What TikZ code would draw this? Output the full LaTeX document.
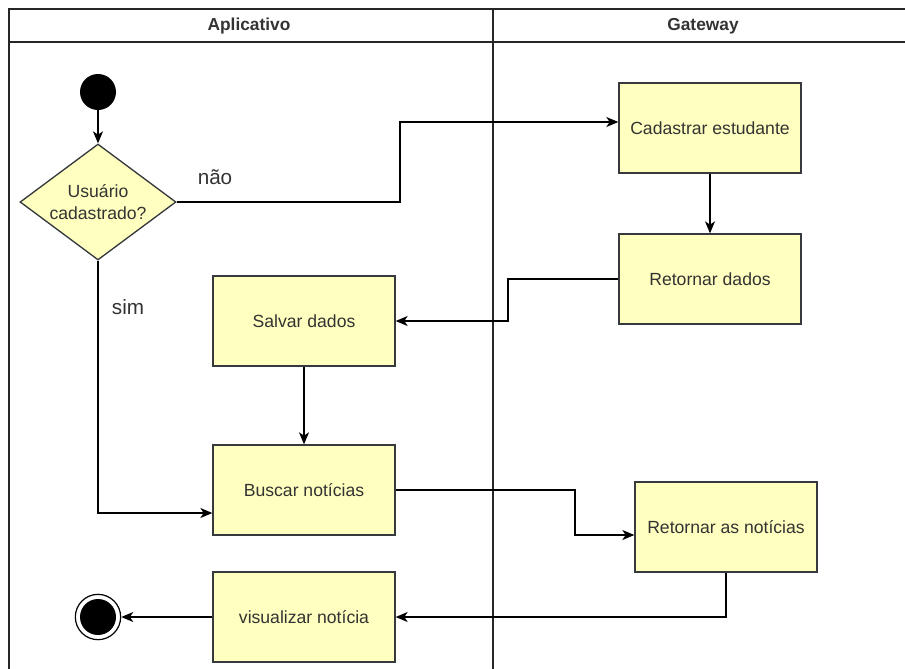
\documentclass[tikz,border=0pt]{standalone}
\usepackage{fontspec}
\setmainfont{Liberation Sans}
\usetikzlibrary{arrows.meta,shapes.geometric}
\definecolor{actfill}{HTML}{FFFFC0}
\definecolor{actline}{HTML}{36393D}
\definecolor{txt}{HTML}{333333}
\begin{document}
\begin{tikzpicture}[x=0.75pt,y=-0.75pt,
  lane/.style={line width=1.4pt,draw=black!85},
  act/.style={rectangle,draw=actline,fill=actfill,line width=1pt,
    minimum width=136.5pt,minimum height=67.5pt,inner sep=0pt,
    font=\fontsize{13.2}{15}\selectfont,text=txt},
  decision/.style={diamond,draw=actline,fill=actfill,line width=1pt,
    minimum width=117pt,minimum height=87pt,inner sep=0pt,aspect=1.34,
    align=center,font=\fontsize{13.2}{16.5}\selectfont,text=txt},
  flow/.style={draw=black,line width=1pt,-{Stealth[length=9pt,width=7.5pt,inset=2.5pt]}},
  lbl/.style={font=\fontsize{15.5}{18}\selectfont,text=txt},
  hdr/.style={font=\fontsize{13}{15}\selectfont\bfseries,text=txt}]
\useasboundingbox (0,0) rectangle (905,668);
% swimlane frame
\draw[lane] (9,675) -- (9,9) -- (910,9);
\draw[lane] (9,42) -- (910,42);
\draw[lane] (493,9) -- (493,675);
\node[hdr] (h1) at (249,26) {Aplicativo};
\node[hdr] (h2) at (703,26) {Gateway};
% nodes
\node[circle,fill=black,minimum size=27pt,inner sep=0pt] (start) at (98,92) {};
\node[decision] (dec) at (98,202) {Usuário\\cadastrado?};
\node[act] (cad) at (710,128) {Cadastrar estudante};
\node[act] (ret) at (710,279) {Retornar dados};
\node[act] (sal) at (304,321) {Salvar dados};
\node[act] (bus) at (304,490) {Buscar notícias};
\node[act] (rnot) at (726,527) {Retornar as notícias};
\node[act] (vis) at (304,617) {visualizar notícia};
\node[circle,draw=black,line width=0.9pt,minimum size=34pt,inner sep=0pt] (fim) at (98,617) {};
\node[circle,fill=black,minimum size=27pt,inner sep=0pt] (fimin) at (98,617) {};
\node[lbl] (nao) at (215,177) {não};
\node[lbl] (sim) at (128,307) {sim};
% connectors
\draw[flow] (start) -- (dec.north);
\draw[flow] (dec.east) -- (400,202) -- (400,122) -- (cad.west |- 0,122);
\draw[flow] (cad.south) -- (ret.north);
\draw[flow] (ret.west) -- (508,279) -- (508,321) -- (sal.east);
\draw[flow] (sal.south) -- (bus.north);
\draw[flow] (dec.south) -- (98,513) -- (bus.west |- 0,513);
\draw[flow] (bus.east) -- (575,490) -- (575,535) -- (rnot.west |- 0,535);
\draw[flow] (rnot.south) -- (726,617) -- (vis.east);
\draw[flow] (vis.west) -- (fim.east);
\end{tikzpicture}
\end{document}
